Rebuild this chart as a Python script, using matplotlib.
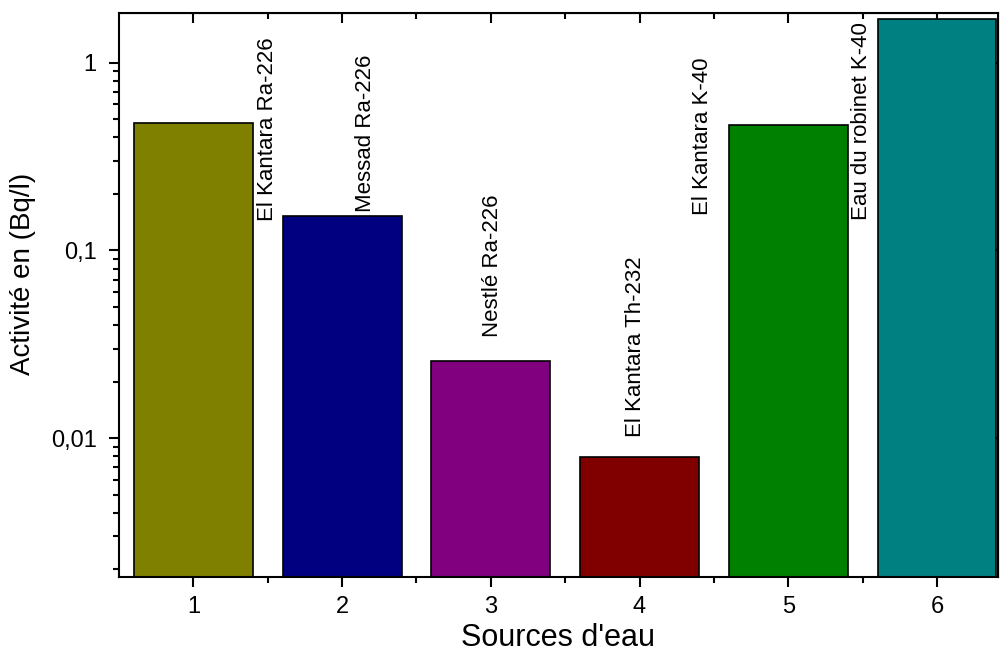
import numpy as np
import matplotlib
matplotlib.use('Agg')
import matplotlib.pyplot as plt
from matplotlib.ticker import FixedLocator, LogLocator, NullFormatter, FuncFormatter

plt.rcParams['font.family'] = ['Liberation Sans', 'DejaVu Sans']

sources = [1, 2, 3, 4, 5, 6]
activity = [0.48, 0.152, 0.0257, 0.0079, 0.468, 1.72]
colors = ['#808000', '#000080', '#800080', '#800000', '#008000', '#008080']
labels = ['El Kantara Ra-226', 'Messad Ra-226', 'Nestlé Ra-226',
          'El Kantara Th-232', 'El Kantara K-40', 'Eau du robinet K-40']
# where each label sits (x in data units, y = bottom of rotated text)
label_x = [1.50, 2.16, 3.01, 3.97, 4.42, 5.49]
label_y = [0.143, 0.161, 0.0345, 0.0101, 0.155, 0.146]

fig = plt.figure(figsize=(10.04, 6.52), dpi=100)
ax = fig.add_axes([0.1185, 0.115, 0.8755, 0.865])

ax.bar(sources, activity, width=0.8, color=colors, edgecolor='black', linewidth=1.2)
ax.set_yscale('log')
ax.set_ylim(0.00182, 1.84)
ax.set_xlim(0.5, 6.41)

for x, y, t in zip(label_x, label_y, labels):
    ax.text(x, y, t, rotation=90, ha='center', va='bottom', fontsize=16)

ax.set_xticks(sources)
ax.xaxis.set_minor_locator(FixedLocator(np.arange(1.5, 6.5, 1)))
ax.yaxis.set_major_locator(FixedLocator([0.01, 0.1, 1]))
ax.yaxis.set_minor_locator(LogLocator(base=10, subs=np.arange(2, 10)))
ax.yaxis.set_minor_formatter(NullFormatter())
ax.yaxis.set_major_formatter(FuncFormatter(lambda v, p: {0.01: '0,01', 0.1: '0,1', 1: '1'}.get(round(v, 3), '')))

ax.tick_params(axis='both', which='major', direction='out', length=7, width=1.5, labelsize=17)
ax.tick_params(axis='x', which='major', pad=7)
ax.tick_params(axis='y', which='major', pad=9)
ax.tick_params(axis='both', which='minor', direction='out', length=4, width=1.5)
for s in ax.spines.values():
    s.set_linewidth(1.5)

# inward ticks on top and right
top = ax.secondary_xaxis('top')
top.set_xticks(sources)
top.xaxis.set_minor_locator(FixedLocator(np.arange(1.5, 6.5, 1)))
top.tick_params(which='major', direction='in', length=7, width=1.5, labeltop=False)
top.tick_params(which='minor', direction='in', length=4, width=1.5)
right = ax.secondary_yaxis('right')
right.yaxis.set_major_locator(FixedLocator([0.01, 0.1, 1]))
right.yaxis.set_minor_locator(FixedLocator([]))
right.tick_params(which='major', direction='in', length=7, width=1.5, labelright=False)

ax.set_xlabel("Sources d'eau", fontsize=22)
ax.set_ylabel('Activité en (Bq/l)', fontsize=20)
ax.xaxis.set_label_coords(0.5, -0.082)
ax.yaxis.set_label_coords(-0.094, 0.537)

fig.savefig('out.png', dpi=100)
